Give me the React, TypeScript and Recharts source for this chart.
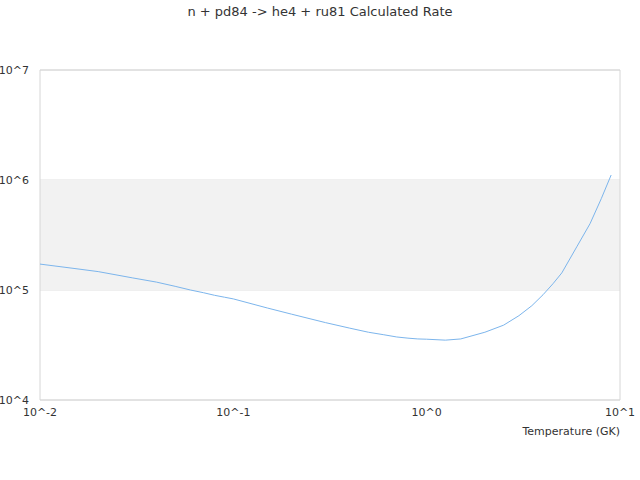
import { CartesianGrid, Label, Line, LineChart, ReferenceArea, XAxis, YAxis } from 'recharts';

const temperatures = [
  0.01, 0.015, 0.02, 0.03, 0.04, 0.05, 0.06, 0.07, 0.08, 0.09, 0.1, 0.15, 0.2, 0.3, 0.4, 0.5, 0.6, 0.7,
  0.8, 0.9, 1, 1.25, 1.5, 2, 2.5, 3, 3.5, 4, 4.5, 5, 6, 7, 8, 9,
];

const rates = [
  1.72e5, 1.57e5, 1.47e5, 1.29e5, 1.18e5, 1.08e5, 1.0e5, 9.45e4, 8.95e4, 8.6e4, 8.3e4, 6.86e4, 6.03e4,
  5.05e4, 4.5e4, 4.13e4, 3.92e4, 3.74e4, 3.65e4, 3.59e4, 3.57e4, 3.5e4, 3.59e4, 4.13e4, 4.79e4, 5.84e4,
  7.2e4, 9.06e4, 1.14e5, 1.43e5, 2.5e5, 4.01e5, 6.76e5, 1.11e6,
];

const xTicks = [0.01, 0.1, 1, 10];
const yTicks = [1e4, 1e5, 1e6, 1e7];

const TITLE = 'n + pd84 -> he4 + ru81 Calculated Rate';
const X_TITLE = 'Temperature (GK)';

const FONT = '"DejaVu Sans", sans-serif';

const powerLabel = (value: number) => `10^${Math.round(Math.log10(value))}`;

const chartData = temperatures.map((t, i) => ({ t, rate: rates[i] }));

export default function App() {
  return (
    <div style={{ position: 'absolute', left: 0, top: 0, width: 640, height: 480, background: '#fff', fontFamily: FONT }}>
      <div
        style={{
          position: 'absolute',
          top: 4,
          left: 0,
          width: 640,
          textAlign: 'center',
          fontSize: 13,
          lineHeight: '16px',
          color: '#333',
        }}
      >
        {TITLE}
      </div>
      <LineChart width={640} height={480} data={chartData} margin={{ top: 70, right: 20, bottom: 0, left: 0 }}>
        <ReferenceArea y1={1e5} y2={1e6} fill="#f2f2f2" fillOpacity={1} stroke="none" ifOverflow="hidden" />
        <CartesianGrid vertical={false} stroke="#e0e0e0" />
        <ReferenceArea
          x1={0.01}
          x2={10}
          y1={1e4}
          y2={1e7}
          fill="none"
          stroke="#d6d6d6"
          strokeOpacity={1}
          ifOverflow="visible"
        />
        <XAxis
          dataKey="t"
          type="number"
          scale="log"
          domain={[0.01, 10]}
          ticks={xTicks}
          tickFormatter={powerLabel}
          allowDataOverflow
          axisLine={false}
          tickLine={false}
          height={80}
          tick={{ fontSize: 11, fill: '#333', fontFamily: FONT }}
        >
          <Label
            content={({ viewBox }: any) => (
              <text
                x={viewBox.x + viewBox.width}
                y={viewBox.y + 35}
                textAnchor="end"
                fontSize={11}
                fill="#333"
                fontFamily={FONT}
              >
                {X_TITLE}
              </text>
            )}
          />
        </XAxis>
        <YAxis
          type="number"
          scale="log"
          domain={[1e4, 1e7]}
          ticks={yTicks}
          tickFormatter={powerLabel}
          allowDataOverflow
          axisLine={false}
          tickLine={false}
          width={40}
          tickMargin={5}
          tick={{ fontSize: 11, fill: '#333', fontFamily: FONT }}
        />
        <Line
          dataKey="rate"
          type="linear"
          stroke="#7cb5ec"
          strokeWidth={1}
          dot={false}
          isAnimationActive={false}
        />
      </LineChart>
    </div>
  );
}
